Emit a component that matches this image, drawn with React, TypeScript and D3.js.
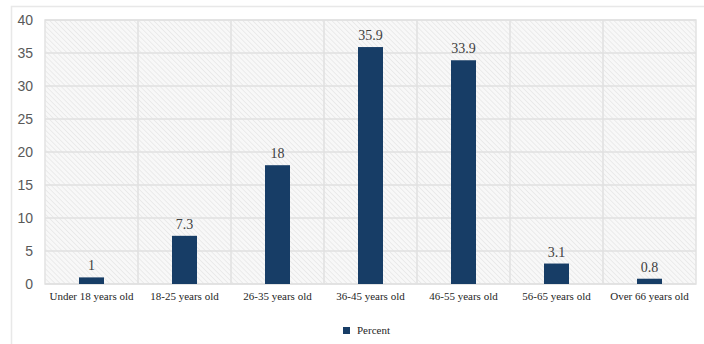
import React, { useEffect, useRef } from "react";
import * as d3 from "d3";

// age groups and the share of respondents in each
const categories = [
  "Under 18 years old",
  "18-25 years old",
  "26-35 years old",
  "36-45 years old",
  "46-55 years old",
  "56-65 years old",
  "Over 66 years old",
];
const percent = [1, 7.3, 18, 35.9, 33.9, 3.1, 0.8];
const yTicks = [0, 5, 10, 15, 20, 25, 30, 35, 40];
const legendLabel = "Percent";

const width = 704;
const height = 344;
const margin = { top: 20, right: 8, bottom: 60, left: 45 };

const App = () => {
  const svgRef = useRef<SVGSVGElement>(null);

  useEffect(() => {
    const svg = d3.select(svgRef.current);
    svg.selectAll("*").remove();

    const x = d3
      .scaleBand()
      .domain(categories)
      .range([margin.left, width - margin.right])
      .paddingInner(0)
      .paddingOuter(0);

    const y = d3
      .scaleLinear()
      .domain([0, 40])
      .range([height - margin.bottom, margin.top]);

    // hatched plot background
    const defs = svg.append("defs");
    const pat = defs
      .append("pattern")
      .attr("id", "hatch")
      .attr("patternUnits", "userSpaceOnUse")
      .attr("width", 3.5)
      .attr("height", 3.5)
      .attr("patternTransform", "rotate(45)");
    pat.append("rect").attr("width", 3.5).attr("height", 3.5).attr("fill", "#f8f8f8");
    pat
      .append("line")
      .attr("x1", 0)
      .attr("y1", 0)
      .attr("x2", 3.5)
      .attr("y2", 0)
      .attr("stroke", "#e6e6e6")
      .attr("stroke-width", 1.4);

    // outer frame
    svg
      .append("path")
      .attr("d", `M11.5,${height} V6.5 H${width}`)
      .attr("fill", "none")
      .attr("stroke", "#e8e8e8")
      .attr("stroke-width", 1.5);

    svg
      .append("rect")
      .attr("x", margin.left)
      .attr("y", margin.top)
      .attr("width", width - margin.left - margin.right)
      .attr("height", height - margin.top - margin.bottom)
      .attr("fill", "url(#hatch)")
      .attr("stroke", "#e2e2e2")
      .attr("stroke-width", 1.5);

    // gridlines
    const grid = svg.append("g");
    grid
      .selectAll("line.h")
      .data(yTicks)
      .join("line")
      .attr("x1", margin.left)
      .attr("x2", width - margin.right)
      .attr("y1", (d) => y(d))
      .attr("y2", (d) => y(d))
      .attr("stroke", "#e0e0e0")
      .attr("stroke-width", 1.5);
    grid
      .selectAll("line.v")
      .data(categories.slice(1))
      .join("line")
      .attr("x1", (d) => x(d)!)
      .attr("x2", (d) => x(d)!)
      .attr("y1", margin.top)
      .attr("y2", height - margin.bottom)
      .attr("stroke", "#e0e0e0")
      .attr("stroke-width", 1.5);

    // y axis labels
    const yAxis = d3.axisLeft(y).tickValues(yTicks).tickSize(0).tickPadding(12);
    svg
      .append("g")
      .attr("transform", `translate(${margin.left}, 0)`)
      .call(yAxis)
      .call((g) => g.select(".domain").remove())
      .call((g) =>
        g
          .selectAll("text")
          .attr("font-family", "Liberation Sans, Arial, sans-serif")
          .attr("font-size", 14)
          .attr("fill", "#595959")
      );

    // x axis labels
    const xAxis = d3.axisBottom(x).tickSize(0).tickPadding(8);
    svg
      .append("g")
      .attr("transform", `translate(0, ${height - margin.bottom})`)
      .call(xAxis)
      .call((g) => g.select(".domain").remove())
      .call((g) =>
        g
          .selectAll("text")
          .attr("font-family", "Liberation Serif, Times New Roman, serif")
          .attr("font-size", 11)
          .attr("fill", "#262626")
      );

    // bars
    const barW = 25;
    const bars = svg.append("g");
    bars
      .selectAll("rect")
      .data(percent)
      .join("rect")
      .attr("x", (d, i) => x(categories[i])! + x.bandwidth() / 2 - barW / 2)
      .attr("y", (d) => y(d))
      .attr("width", barW)
      .attr("height", (d) => y(0) - y(d))
      .attr("fill", "#173d66");

    bars
      .selectAll("text")
      .data(percent)
      .join("text")
      .attr("x", (d, i) => x(categories[i])! + x.bandwidth() / 2)
      .attr("y", (d) => y(d) - 7)
      .attr("text-anchor", "middle")
      .attr("font-family", "Liberation Serif, Times New Roman, serif")
      .attr("font-size", 14)
      .attr("fill", "#404040")
      .text((d) => d);

    // legend
    const lg = svg.append("g").attr("transform", "translate(343, 327)");
    lg.append("rect").attr("width", 7).attr("height", 7).attr("fill", "#173d66");
    lg.append("text")
      .attr("x", 14)
      .attr("y", 7)
      .attr("font-family", "Liberation Serif, Times New Roman, serif")
      .attr("font-size", 11)
      .attr("fill", "#262626")
      .text(legendLabel);
  }, []);

  return (
    <svg
      ref={svgRef}
      width={width}
      height={height}
      style={{ position: "absolute", left: 0, top: 0, background: "#fff" }}
    />
  );
};

export default App;
